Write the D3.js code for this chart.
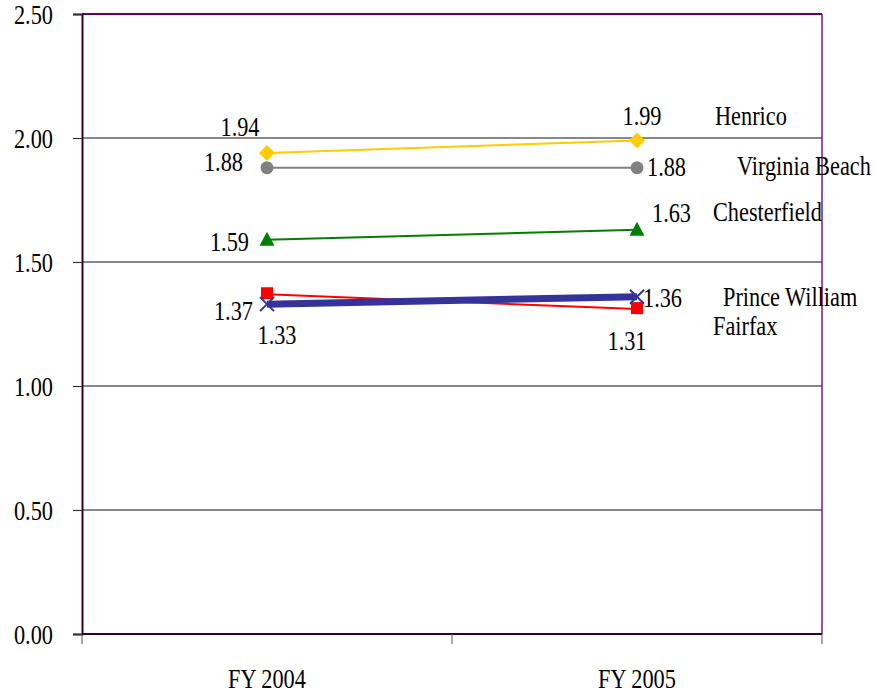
<!DOCTYPE html>
<html>
<head>
<meta charset="utf-8">
<script src="https://cdn.jsdelivr.net/npm/d3@7"></script>
<style>
  body { margin: 0; background: #fff; }
  text { font-family: "Liberation Serif", "Times New Roman", serif; fill: #000; }
</style>
</head>
<body>
<div id="chart"></div>
<script>
// chart values
var years = ["FY 2004", "FY 2005"]
var yTicks = [0, 0.5, 1.0, 1.5, 2.0, 2.5]
var seriesNames = ["Fairfax", "Prince William", "Chesterfield", "Virginia Beach", "Henrico"]
var henrico = [1.94, 1.99]
var virginiaBeach = [1.88, 1.88]
var chesterfield = [1.59, 1.63]
var fairfax = [1.37, 1.31]
var princeWilliam = [1.33, 1.36]

// styling + label placement (offsets in px from the point)
var styles = {
  "Henrico":        { color: "#FFCC00", width: 2, marker: "diamond",
                      labels: [[-27, -26, "middle"], [5, -25, "middle"]], name: [78, -25] },
  "Virginia Beach": { color: "#808080", width: 2, marker: "circle",
                      labels: [[-24, -6, "end"], [10, -1, "start"]], name: [100, -2] },
  "Chesterfield":   { color: "#008000", width: 2, marker: "triangle",
                      labels: [[-18, 2, "end"], [15, -17, "start"]], name: [76, -18] },
  "Fairfax":        { color: "#FF0000", width: 2, marker: "square",
                      labels: [[-14, 16, "end"], [-10, 31, "middle"]], name: [76, 16] },
  "Prince William": { color: "#333399", width: 7, marker: "x",
                      labels: [[10, 30, "middle"], [6, 1, "start"]], name: [86, 0] }
}
var valuesByName = {
  "Henrico": henrico,
  "Virginia Beach": virginiaBeach,
  "Chesterfield": chesterfield,
  "Fairfax": fairfax,
  "Prince William": princeWilliam
}

var width = 876, height = 693
var plotLeft = 82, plotRight = 822, plotTop = 14, plotBottom = 634

var svg = d3.select("#chart").append("svg")
  .attr("width", width)
  .attr("height", height)

var x = d3.scaleBand().domain(years).range([plotLeft, plotRight]).padding(0)
var y = d3.scaleLinear().domain([0, 2.5]).range([plotBottom, plotTop])
var fmt = d3.format(".2f")

function cx(d) { return x(d) + x.bandwidth() / 2 }

// text is vertically stretched in the original
function label(g, str, px, py, anchor) {
  return g.append("text")
    .attr("transform", "translate(" + px + "," + py + ") scale(1,1.25)")
    .attr("dy", "0.34em")
    .attr("text-anchor", anchor)
    .style("font-size", "22.3px")
    .text(str)
}

// gridlines
svg.append("g").selectAll("line")
  .data(yTicks.filter(function(d) { return d > 0 && d < 2.5 }))
  .enter().append("line")
  .attr("x1", plotLeft).attr("x2", plotRight)
  .attr("y1", function(d) { return y(d) }).attr("y2", function(d) { return y(d) })
  .attr("stroke", "#606060").attr("stroke-width", 1.3)

// frame top/right
svg.append("line").attr("x1", plotLeft).attr("x2", plotRight).attr("y1", plotTop).attr("y2", plotTop)
  .attr("stroke", "#660066").attr("stroke-width", 2)
svg.append("line").attr("x1", plotRight).attr("x2", plotRight).attr("y1", plotTop).attr("y2", plotBottom)
  .attr("stroke", "#7a1a7a").attr("stroke-width", 1.5)

// y axis
var yAxis = svg.append("g")
  .attr("transform", "translate(" + plotLeft + ",0)")
  .call(d3.axisLeft(y).tickValues(yTicks).tickFormat(fmt).tickSize(9).tickPadding(20))
yAxis.select(".domain").attr("stroke", "#330033").attr("stroke-width", 2)
yAxis.selectAll(".tick line").attr("stroke", "#333").attr("stroke-width", 1.2)
yAxis.selectAll(".tick text").remove()
yAxis.selectAll(".tick").each(function(d) {
  label(d3.select(this), fmt(d), -29, 0, "end")
})

// x axis
var xAxis = svg.append("g")
  .attr("transform", "translate(0," + plotBottom + ")")
xAxis.append("line").attr("x1", plotLeft).attr("x2", plotRight)
  .attr("stroke", "#330033").attr("stroke-width", 2)
xAxis.selectAll(".xtick")
  .data(years.map(function(d) { return x(d) }).concat([plotRight]))
  .enter().append("line")
  .attr("x1", function(d) { return d }).attr("x2", function(d) { return d })
  .attr("y1", 0).attr("y2", 10)
  .attr("stroke", "#555").attr("stroke-width", 1)
years.forEach(function(yr) {
  label(xAxis, yr, cx(yr), 45, "middle")
})

// lines + markers
var lineGen = d3.line()
  .x(function(d, i) { return cx(years[i]) })
  .y(function(d) { return y(d) })

seriesNames.forEach(function(name) {
  var vals = valuesByName[name]
  var st = styles[name]
  var g = svg.append("g")

  g.append("path")
    .datum(vals)
    .attr("d", lineGen)
    .attr("fill", "none")
    .attr("stroke", st.color)
    .attr("stroke-width", st.width)

  vals.forEach(function(v, i) {
    var px = cx(years[i]), py = y(v)
    if (st.marker == "diamond") {
      g.append("path").attr("d", "M0,-8L8,0L0,8L-8,0Z")
        .attr("transform", "translate(" + px + "," + py + ")").attr("fill", st.color)
    } else if (st.marker == "circle") {
      g.append("circle").attr("cx", px).attr("cy", py).attr("r", 6.5).attr("fill", st.color)
    } else if (st.marker == "triangle") {
      g.append("path").attr("d", "M0,-8L7.5,6L-7.5,6Z")
        .attr("transform", "translate(" + px + "," + py + ")").attr("fill", st.color)
    } else if (st.marker == "square") {
      g.append("rect").attr("x", px - 6).attr("y", py - 7).attr("width", 12).attr("height", 12)
        .attr("fill", st.color)
    } else if (st.marker == "x") {
      g.append("path").attr("d", "M-7,-7L7,7M-7,7L7,-7")
        .attr("transform", "translate(" + px + "," + py + ")")
        .attr("stroke", st.color).attr("stroke-width", 2).attr("fill", "none")
    }
  })
})

// value labels and series names
seriesNames.forEach(function(name) {
  var vals = valuesByName[name]
  var st = styles[name]
  vals.forEach(function(v, i) {
    var off = st.labels[i]
    label(svg, fmt(v), cx(years[i]) + off[0], y(v) + off[1], off[2])
  })
  var last = vals.length - 1
  label(svg, name, cx(years[last]) + st.name[0], y(vals[last]) + st.name[1], "start")
})
</script>
</body>
</html>
